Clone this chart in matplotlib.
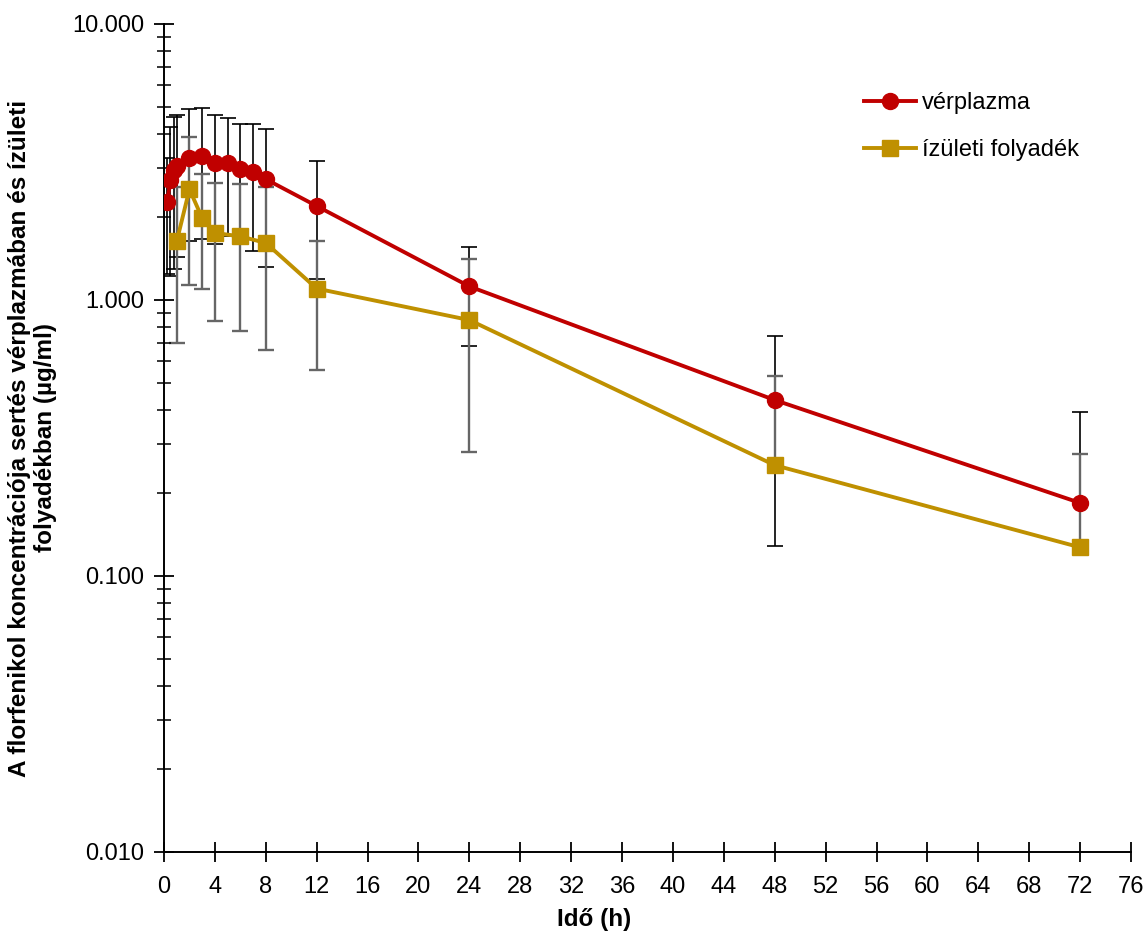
import numpy as np
import matplotlib.pyplot as plt
from matplotlib.ticker import FixedLocator, LogLocator, NullFormatter

plt.rcParams['font.family'] = ['Liberation Sans', 'DejaVu Sans']

# mean +/- SD (ug/ml)
plasma_time = [0.25, 0.5, 0.75, 1, 2, 3, 4, 5, 6, 7, 8, 12, 24, 48, 72]
plasma_mean = [2.26, 2.72, 2.96, 3.06, 3.28, 3.32, 3.13, 3.14, 2.98, 2.92, 2.74, 2.19, 1.12, 0.434, 0.184]
plasma_sd = [1.02, 1.50, 1.66, 1.63, 1.64, 1.65, 1.54, 1.44, 1.36, 1.42, 1.42, 1.00, 0.44, 0.306, 0.21]

joint_time = [1, 2, 3, 4, 6, 8, 12, 24, 48, 72]
joint_mean = [1.63, 2.52, 1.98, 1.75, 1.70, 1.61, 1.10, 0.846, 0.252, 0.127]
joint_sd = [0.93, 1.39, 0.88, 0.91, 0.93, 0.95, 0.54, 0.565, 0.28, 0.15]

x_ticks = list(range(0, 77, 4))
y_ticks = [0.01, 0.1, 1, 10]
y_tick_labels = ['0.010', '0.100', '1.000', '10.000']

red = '#C00000'
gold = '#BF9000'


def err_pair(mean, sd):
    # a lower end at or below zero cannot be shown on the log axis
    mean = np.array(mean)
    sd = np.array(sd)
    lower = np.where(mean - sd > 0, sd, 0.0)
    return [lower, sd]


fig = plt.figure(figsize=(11.47, 9.33), dpi=100)
ax = fig.add_axes([164 / 1147, 1 - 852 / 933, (1131 - 164) / 1147, (852 - 24) / 933])

ax.errorbar(plasma_time, plasma_mean, yerr=err_pair(plasma_mean, plasma_sd), fmt='none',
            ecolor='black', elinewidth=1.2, capsize=5.5, capthick=1.2, zorder=1)
ax.errorbar(joint_time, joint_mean, yerr=err_pair(joint_mean, joint_sd), fmt='none',
            ecolor='#666666', elinewidth=1.7, capsize=5.5, capthick=1.7, zorder=1.5)

ax.plot(plasma_time, plasma_mean, color=red, lw=2.8, marker='o', ms=11.5,
        label='vérplazma', zorder=3)
ax.plot(joint_time, joint_mean, color=gold, lw=2.8, marker='s', ms=11,
        label='ízületi folyadék', zorder=3)

ax.set_yscale('log')
ax.set_ylim(0.01, 10)
ax.set_xlim(0, 76)
ax.xaxis.set_major_locator(FixedLocator(x_ticks))
ax.set_yticks(y_ticks)
ax.set_yticklabels(y_tick_labels)
ax.yaxis.set_minor_locator(LogLocator(base=10, subs=np.arange(2, 10)))
ax.yaxis.set_minor_formatter(NullFormatter())

for side in ['top', 'right']:
    ax.spines[side].set_visible(False)
for side in ['left', 'bottom']:
    ax.spines[side].set_linewidth(1.4)

ax.tick_params(axis='both', which='major', direction='inout', length=14, width=1.3,
               labelsize=17, pad=7)
ax.tick_params(axis='x', which='major', pad=10)
ax.tick_params(axis='y', which='minor', direction='inout', length=10, width=1.1)

ax.set_xlabel('Idő (h)', fontsize=17.5, fontweight='bold')
ax.xaxis.set_label_coords(0.445, -0.068)
ax.set_ylabel('A florfenikol koncentrációja sertés vérplazmában és ízületi\nfolyadékban (µg/ml)',
              fontsize=17.5, fontweight='bold', linespacing=1.15)
ax.yaxis.set_label_coords(-0.111, 0.5)

ax.legend(loc='upper left', bbox_to_anchor=(852 / 1147, 1 - 80 / 933),
          bbox_transform=fig.transFigure, frameon=False, fontsize=17,
          handlelength=2.2, handletextpad=0.25, labelspacing=1.08, borderpad=0)

fig.savefig('out.png', dpi=100)
